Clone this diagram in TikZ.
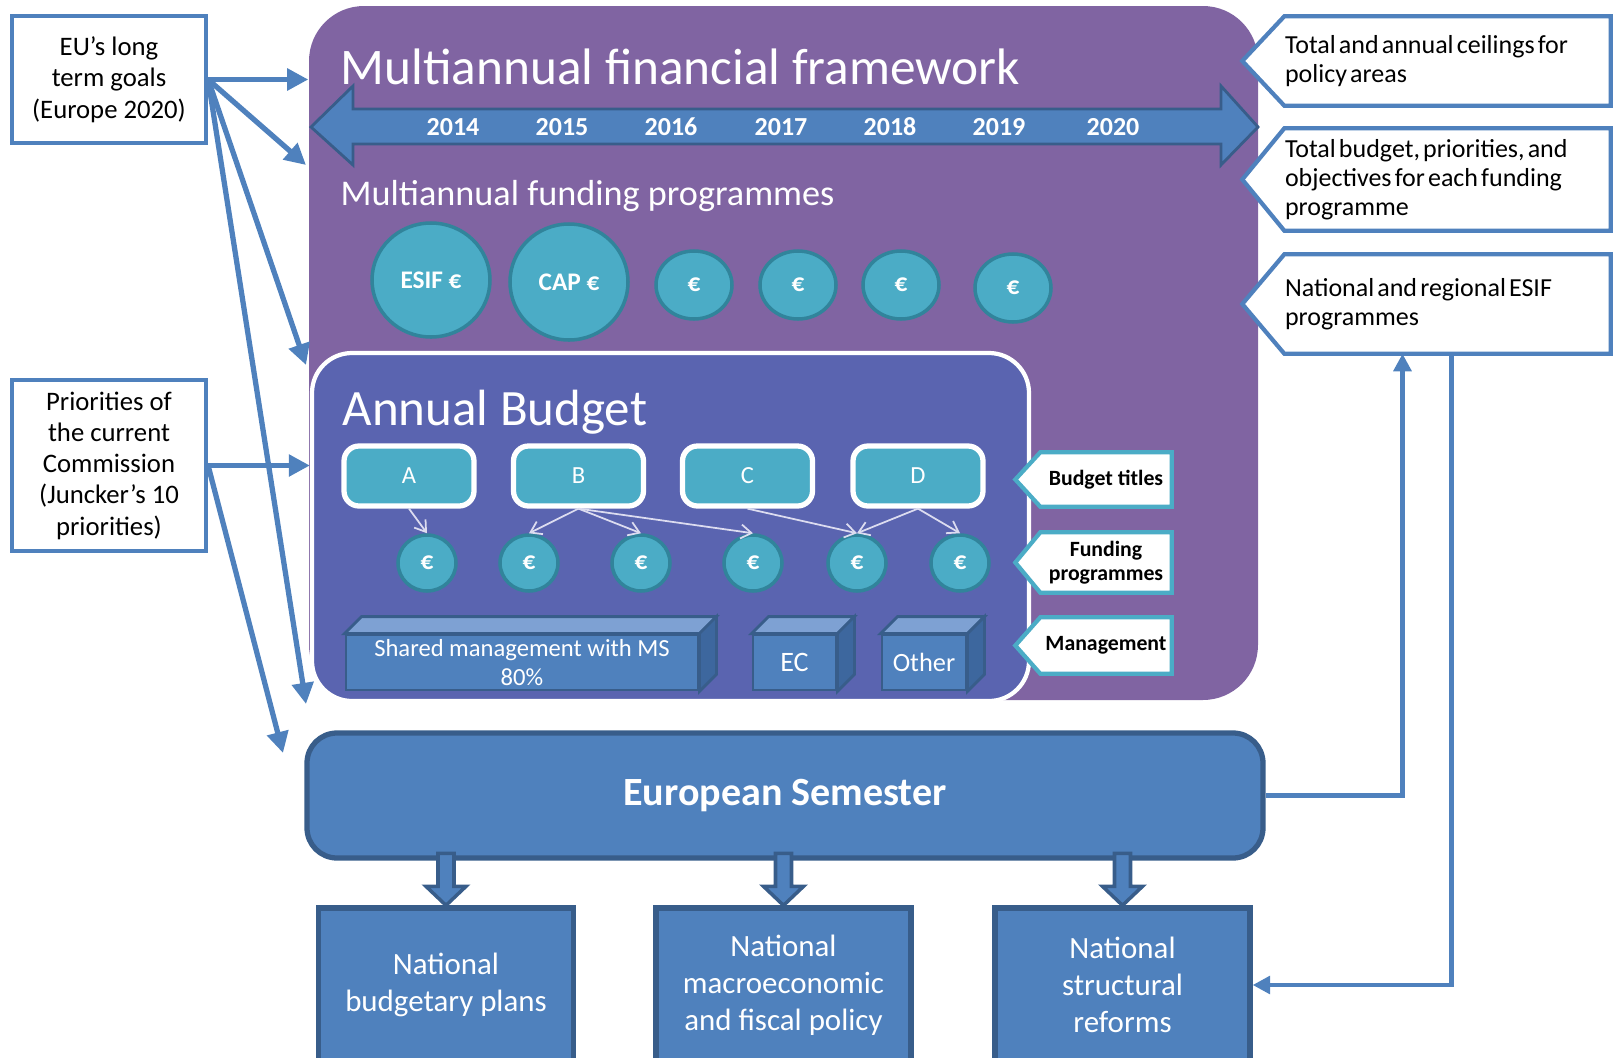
\documentclass[tikz,border=0pt]{standalone}
\usepackage{fontspec}
\setmainfont{Carlito}
\usetikzlibrary{arrows.meta,positioning,shapes.geometric,calc,backgrounds}
\definecolor{mffpurple}{HTML}{8064A2}
\definecolor{budgetblue}{HTML}{5A64B0}
\definecolor{fundteal}{HTML}{4BACC6}
\definecolor{fundedge}{HTML}{31849B}
\definecolor{officeblue}{HTML}{4F81BD}
\definecolor{darkblue}{HTML}{385D8A}
\definecolor{cubetop}{HTML}{7EA1D3}
\definecolor{cubeside}{HTML}{3D679E}
\definecolor{splitgrey}{HTML}{DCDCF0}
\DeclareRobustCommand\tightwords{\spaceskip=0.12em plus 0.05em\relax}

\begin{document}
\begin{tikzpicture}[x=0.1mm,y=-0.1mm,
    goalbox/.style={draw=officeblue,line width=1.2pt,fill=white,align=center,
      font=\fontsize{7.6}{8.9}\selectfont,minimum width=19.4mm},
    goalarrow/.style={officeblue,line width=1.5pt,-{Triangle[length=6pt,width=6pt]}},
    linkarrow/.style={officeblue,line width=1.3pt,-{Triangle[length=5pt,width=5pt]}},
    notetext/.style={align=left,font=\fontsize{7.4}{8.3}\selectfont,
      execute at begin node=\tightwords,
      text width=32.5mm,inner xsep=0pt,inner ysep=0pt,minimum width=32.5mm},
    noteframe/.style={draw=officeblue,line width=1.2pt,fill=white},
    tagtext/.style={align=center,font=\bfseries\fontsize{6.2}{6.9}\selectfont,
      minimum width=13mm,inner sep=0pt},
    tagframe/.style={draw=fundteal,line width=1.2pt,fill=white},
    fund/.style={ellipse,draw=fundedge,line width=1pt,fill=fundteal,text=white,
      font=\bfseries\fontsize{7.2}{8}\selectfont,inner sep=0pt},
    titlebox/.style={draw=white,line width=1.5pt,fill=fundteal,rounded corners=1.5mm,
      text=white,minimum width=13mm,minimum height=6mm,font=\fontsize{7}{8}\selectfont},
    mgmt/.style={draw=darkblue,line width=0.8pt,fill=officeblue,text=white,
      minimum height=5.5mm,align=center,inner sep=0pt},
    cubeface/.style={draw=darkblue,line width=0.8pt},
    natbox/.style={draw=darkblue,line width=1.5pt,fill=officeblue,text=white,
      minimum width=25.5mm,minimum height=15.4mm,align=center,
      font=\fontsize{8.8}{10.5}\selectfont},
    blockarrow/.style={draw=darkblue,line width=1pt,fill=officeblue},
    splitarrow/.style={splitgrey,line width=0.5pt,-{Straight Barb[length=3pt,width=4pt]}},
    year/.style={text=white,font=\bfseries\fontsize{7.4}{8}\selectfont}]

  \useasboundingbox (0,0) rectangle (1614,1058);
  \clip (0,0) rectangle (1614,1058);

  % framework and annual budget
  \begin{scope}[on background layer]
    \node[fill=mffpurple,rounded corners=5.5mm,minimum width=94.9mm,minimum height=69.4mm]
      (mff) at (783.5,353) {};
    \node[draw=white,line width=1.2pt,fill=budgetblue,rounded corners=4mm,
      minimum width=71.7mm,minimum height=34.8mm] (budget) at (670.5,527) {};
  \end{scope}

  \node[anchor=base west,text=white,inner sep=0pt,font=\fontsize{14.6}{17}\selectfont]
    (mfftitle) at (340,84) {Multiannual financial framework};
  \draw[draw=darkblue,line width=0.8pt,fill=officeblue]
    (311,127) -- (353,86) -- (353,109) -- (1221,109) -- (1221,86) -- (1258,127)
    -- (1221,165) -- (1221,144) -- (353,144) -- (353,165) -- cycle;
  \foreach \yr/\xx in {2014/453,2015/562,2016/671,2017/781,2018/890,2019/999,2020/1113}
    \node[year] (y\yr) at (\xx,127) {\yr};

  \node[anchor=base west,text=white,inner sep=0pt,font=\fontsize{10.3}{12}\selectfont]
    (mfp) at (340,205) {Multiannual funding programmes};
  \node[fund,minimum width=11.8mm,minimum height=11.4mm] (esif) at (431,280) {ESIF €};
  \node[fund,minimum width=11.8mm,minimum height=11.6mm] (cap) at (569,282) {CAP €};
  \foreach \n/\xx/\yy in {1/694/285,2/798/285,3/901/285,4/1013/288}
    \node[fund,minimum width=7.6mm,minimum height=6.8mm] (m\n) at (\xx,\yy) {€};

  % annual budget
  \node[anchor=base west,text=white,inner sep=0pt,font=\fontsize{14.5}{17}\selectfont]
    (abtitle) at (342,425) {Annual Budget};
  \foreach \t/\xx in {A/409,B/578.5,C/747.5,D/918}
    \node[titlebox] (t\t) at (\xx,476) {\t};
  \foreach \n/\xx in {1/427,2/529,3/641,4/753,5/857,6/960}
    \node[fund,minimum width=5.8mm,minimum height=5.6mm] (e\n) at (\xx,563) {€};
  \foreach \s/\e in {A/1,B/2,B/3,B/4,C/5,D/5,D/6}
    \draw[splitarrow] (t\s.south) -- (e\e.north);

  \node[mgmt,minimum width=35.2mm,font=\fontsize{7}{8}\selectfont]
    (shared) at (522,662.5) {Shared management with MS\\80\%};
  \node[mgmt,minimum width=8.3mm,font=\fontsize{8}{9}\selectfont] (ec) at (794.5,662.5) {EC};
  \node[mgmt,minimum width=8.4mm,font=\fontsize{7.5}{9}\selectfont] (other) at (924,662.5) {Other};
  \foreach \m in {shared,ec,other}{
    \draw[cubeface,fill=cubetop] (\m.north west) -- ++(17,-17)
      -- ($(\m.north east)+(17,-17)$) -- (\m.north east) -- cycle;
    \draw[cubeface,fill=cubeside] (\m.north east) -- ++(17,-17)
      -- ($(\m.south east)+(17,-17)$) -- (\m.south east) -- cycle;
  }

  % tags inside the framework
  \node[tagtext,minimum height=5.3mm] (bt) at (1106,479.5) {Budget titles};
  \node[tagtext,minimum height=5.9mm] (fp) at (1106,562.5) {Funding\\programmes};
  \node[tagtext,minimum height=5.5mm] (mg) at (1106,645.5) {Management};

  % notes on the right
  \node[notetext,minimum height=8.8mm] (c1) at (1447.5,61) {Total and annual ceilings for\\policy areas};
  \node[notetext,minimum height=10.1mm] (c2) at (1447.5,179.5) {Total budget, priorities, and\\objectives for each funding\\programme};
  \node[notetext,minimum height=9.8mm] (c3) at (1447.5,304) {National and regional ESIF\\programmes};

  \begin{scope}[on background layer]
    \foreach \t in {bt,fp,mg}
      \draw[tagframe] (\t.north west) -- (\t.north east) -- (\t.south east)
        -- (\t.south west) -- ($(\t.west)+(-25,0)$) -- cycle;
    \foreach \t in {c1,c2,c3}
      \draw[noteframe] (\t.north west) -- (\t.north east) -- (\t.south east)
        -- (\t.south west) -- ($(\t.west)+(-42,0)$) -- cycle;
  \end{scope}

  % goals on the left
  \node[goalbox,minimum height=12.7mm] (goals) at (109,79.5) {EU’s long\\term goals\\(Europe 2020)};
  \node[goalbox,minimum height=17.1mm] (prio) at (109,465.5)
    {Priorities of\\the current\\Commission\\(Juncker’s 10\\priorities)};
  \coordinate (g2) at (306,165);
  \coordinate (g3) at (306,365);
  \coordinate (g4) at (306,704);
  \coordinate (p2) at (283,753);
  \draw[goalarrow] (goals.east) -- (mff.west |- goals.east);
  \draw[goalarrow] (goals.east) -- (g2);
  \draw[goalarrow] (goals.east) -- (g3);
  \draw[goalarrow] (goals.east) -- (g4);
  \draw[goalarrow] (prio.east) -- (budget.west |- prio.east);
  \draw[goalarrow] (prio.east) -- (p2);

  % european semester
  \node[natbox] (nb) at (446,985) {National\\budgetary plans};
  \node[natbox] (nm) at (783.5,985) {National\\macroeconomic\\and fiscal policy};
  \node[natbox] (ns) at (1122.5,985) {National\\structural\\reforms};
  \node[draw=darkblue,line width=1.5pt,fill=officeblue,rounded corners=3mm,
    minimum width=95.6mm,minimum height=12.5mm,text=white,
    font=\bfseries\fontsize{11.4}{13}\selectfont] (sem) at (785,795.5) {European Semester};
  \foreach \b in {nb,nm,ns}
    \draw[blockarrow] (\b.north) -- ++(-20,-19) -- ++(12,0) -- ++(0,-33)
      -- ++(16,0) -- ++(0,33) -- ++(12,0) -- cycle;

  \draw[linkarrow] (sem.east) -| ($(c3.south)+(-45,0)$);
  \draw[linkarrow] ($(c3.south)+(4,0)$) |- (ns.east);
\end{tikzpicture}
\end{document}
